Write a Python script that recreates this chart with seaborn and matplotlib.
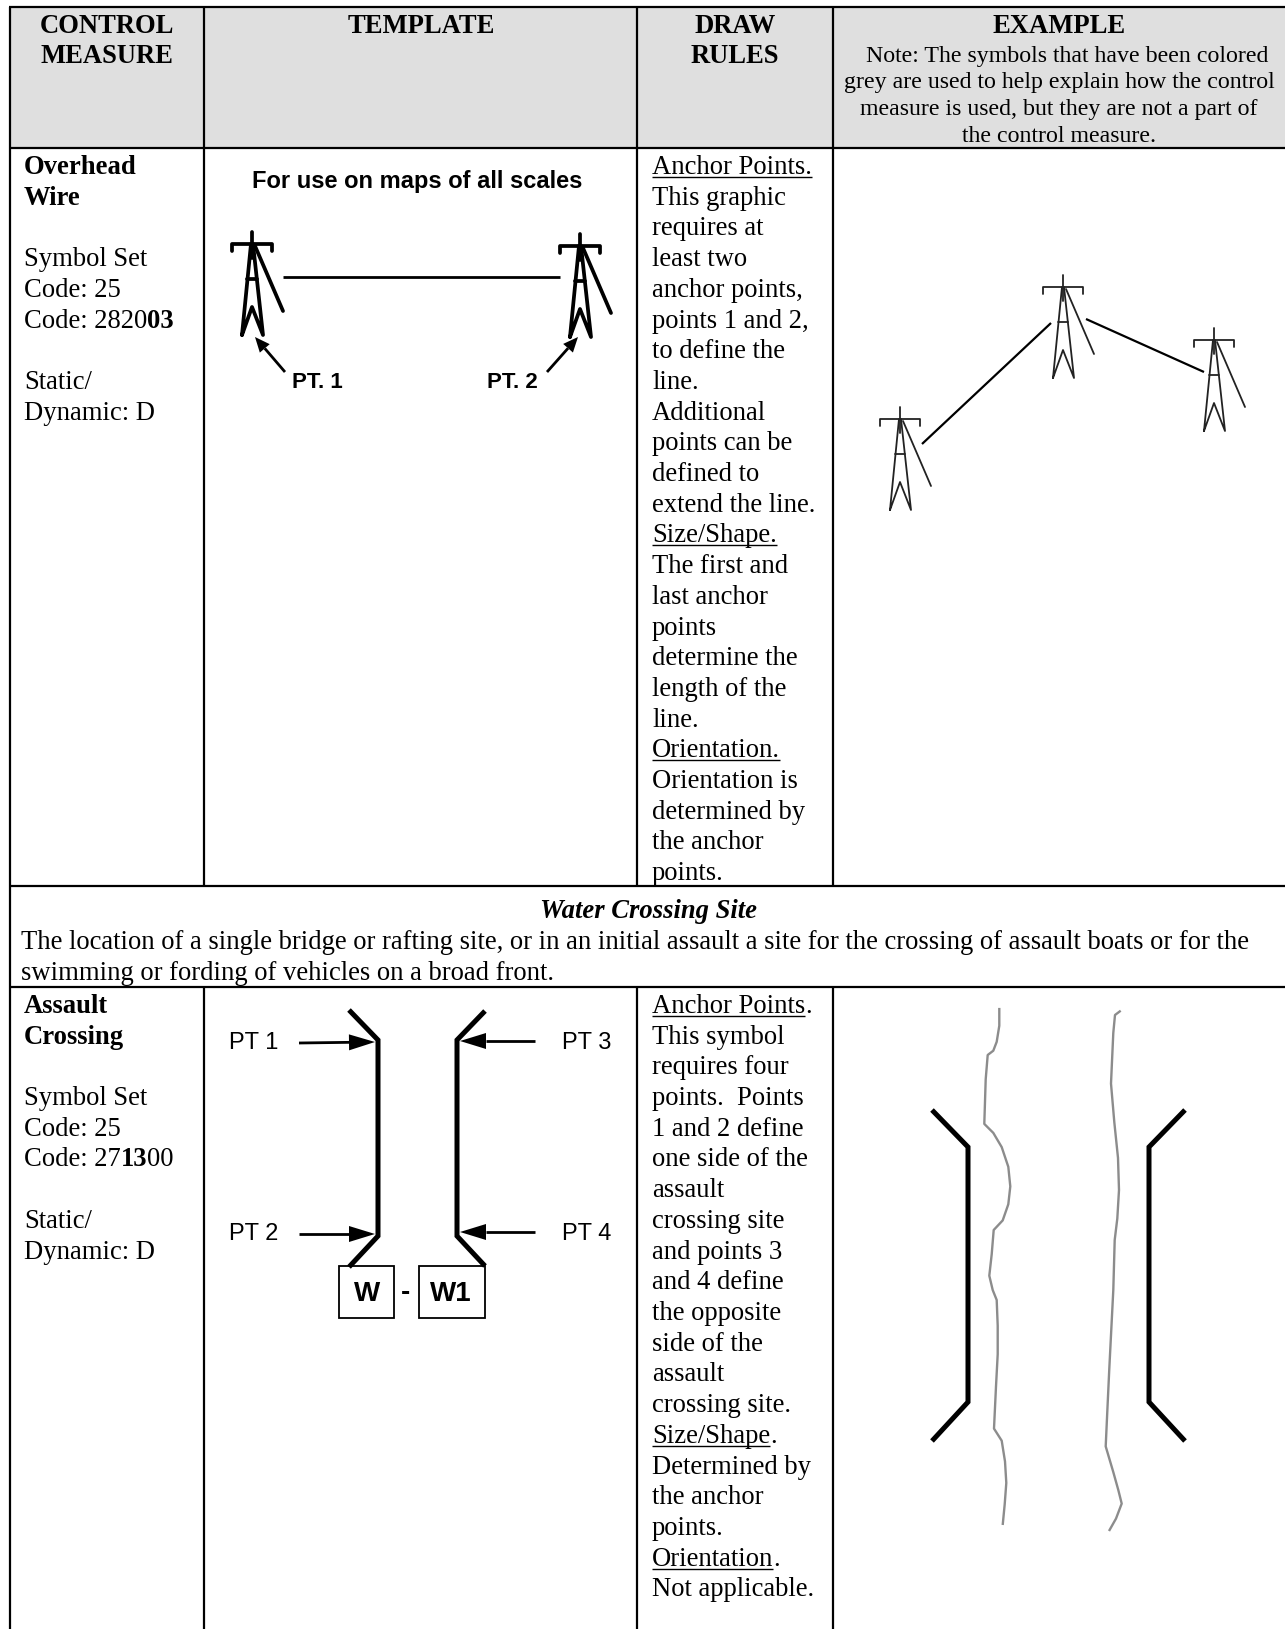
import matplotlib
matplotlib.use("Agg")
import matplotlib.pyplot as plt
import seaborn as sns
import pandas as pd
from matplotlib.patches import Rectangle, Polygon

sns.set_theme(style="white")
plt.rcParams['font.family'] = ['Liberation Serif', 'DejaVu Sans']

W, H = 1285, 1629
SERIF_PT = 19.2
LINE_H = 30.7
LEFT = 10

# Table grid
col_lines = [204, 637, 833]
row_y = dict(top=7, head=148, water_top=886, water_bot=987, bottom=1629)
header_fill = "#dfdfdf"

# Header text
headers = [("CONTROL", 107, 32.5), ("MEASURE", 107, 62.5), ("TEMPLATE", 421, 32.5),
           ("DRAW", 735, 32.5), ("RULES", 735, 62.5), ("EXAMPLE", 1059, 32.5)]
note_lines = ["Note: The symbols that have been colored",
              "grey are used to help explain how the control",
              "measure is used, but they are not a part of",
              "the control measure."]
note_centres = [1067, 1059, 1059, 1059]

# Left column
left1 = ["Overhead", "Wire", "", "Symbol Set", "Code: 25", "Code: 2820|03", "", "Static/", "Dynamic: D"]
left2 = ["Assault", "Crossing", "", "Symbol Set", "Code: 25", "Code: 27|13|00", "", "Static/", "Dynamic: D"]

# Draw rules: "__" underlines the whole line, "_" all but the final full stop
rules1 = ["__Anchor Points.", "This graphic", "requires at", "least two", "anchor points,", "points 1 and 2,",
          "to define the", "line.", "Additional", "points can be", "defined to", "extend the line.",
          "__Size/Shape.", "The first and", "last anchor", "points", "determine the", "length of the", "line.",
          "__Orientation.", "Orientation is", "determined by", "the anchor", "points."]
rules2 = ["_Anchor Points.", "This symbol", "requires four", "points.  Points", "1 and 2 define", "one side of the",
          "assault", "crossing site", "and points 3", "and 4 define", "the opposite", "side of the", "assault",
          "crossing site.", "_Size/Shape.", "Determined by", "the anchor", "points.", "_Orientation.", "Not applicable."]

water_title = "Water Crossing Site"
water_text = ["The location of a single bridge or rafting site, or in an initial assault a site for the crossing of assault boats or for the",
              "swimming or fording of vehicles on a broad front."]

# Tower geometry: offsets from the point where mast and cross-arm meet
mast = ([0, 0], [-12, 14])
arm = ([-20, -20, 20, 20], [7, 0, 0, 7])
guy = ([3, 31], [2, 67])
legs = ([-10, -1, 1, 11, 0, -10], [91, 0, 0, 91, 63, 91])
brace = ([-5, 5], [35, 35])

# Overhead wire template
tmpl_towers = [(252, 244), (580, 246)]
tmpl_wire = ([283, 560], [276.5, 276.5])
pt_arrows = [((285, 372), (255, 337)), ((547, 372), (578, 337))]
pt_labels = [("PT. 1", 317, 388), ("PT. 2", 512, 388)]

# Overhead wire example
ex_towers = [(900, 419), (1063, 287), (1214, 340)]
ex_wires = [([922, 1051], [444, 323]), ([1086, 1204], [319, 372])]

# Assault crossing template
cross_left = ([349, 378, 378, 349], [1010, 1040, 1236, 1267])
cross_right = ([485, 457, 457, 485], [1011, 1040, 1236, 1266])
cross_arrows = [((299, 1043), (375, 1042)), ((299, 1234), (375, 1234)),
                ((535, 1041), (460, 1041)), ((535, 1232), (460, 1232))]
cross_labels = [("PT 1", 229, 1049), ("PT 2", 229, 1240), ("PT 3", 562, 1049), ("PT 4", 562, 1240)]
box_w = (339, 394, 1266, 1318)
box_w1 = (419, 485, 1266, 1318)

# Assault crossing example
ex_left = ([932, 968, 968, 932], [1110, 1147, 1402, 1441])
ex_right = ([1185, 1149, 1149, 1185], [1110, 1147, 1402, 1441])
river_l_x = [999.3, 999.3, 996.7, 993.3, 987.7, 985.7, 984.3, 993.3, 1001.7, 1008.3, 1010.3, 1008.3, 1002.7, 993.7,
             991.7, 989.3, 992.7, 996.7, 997.7, 997.7, 996, 994, 1001.7, 1005, 1006.3, 1004.7, 1002.7]
river_l_y = [1007.9, 1025.7, 1041.8, 1050.7, 1055, 1079.3, 1123.9, 1132.9, 1147.1, 1166.8, 1186.4, 1204.3, 1220.4, 1230,
             1254.3, 1275.7, 1290, 1300, 1325.7, 1354.3, 1386.4, 1428.6, 1440.7, 1461.4, 1482.9, 1504.3, 1525]
river_r_x = [1120.7, 1115, 1113.3, 1112, 1111, 1114.3, 1118, 1119, 1117.3, 1114.7, 1113.3, 1111.3, 1109.3, 1107.3,
             1105.7, 1113.3, 1118.3, 1121.7, 1116, 1109]
river_r_y = [1010.7, 1015, 1032.9, 1061.4, 1083.6, 1122.1, 1157.9, 1190, 1218.6, 1240, 1290, 1329.3, 1368.6, 1411.4,
             1446.4, 1472.1, 1490, 1503.6, 1518.6, 1531]

fig = plt.figure(figsize=(W / 100, H / 100), dpi=100, facecolor="white")
ax = fig.add_axes([0, 0, 1, 1])
ax.set_xlim(0, W)
ax.set_ylim(H, 0)
ax.axis("off")


def line(xs, ys, lw=2.0, color="black", cap="butt", join="miter", z=3):
    frame = pd.DataFrame({"x": xs, "y": ys})
    sns.lineplot(data=frame, x="x", y="y", sort=False, estimator=None, errorbar=None, ax=ax, color=color,
                 linewidth=lw, solid_capstyle=cap, solid_joinstyle=join, zorder=z, legend=False)
    ax.set_xlim(0, W)
    ax.set_ylim(H, 0)


def arrow(p, q, lw, head_len, head_w):
    dx, dy = q[0] - p[0], q[1] - p[1]
    n = (dx * dx + dy * dy) ** 0.5
    ux, uy = dx / n, dy / n
    bx, by = q[0] - ux * head_len, q[1] - uy * head_len
    line([p[0], bx], [p[1], by], lw=lw)
    ax.add_patch(Polygon([q, (bx - uy * head_w, by + ux * head_w), (bx + uy * head_w, by - ux * head_w)],
                         closed=True, fc="black", ec="none", zorder=4))


def tower(cx, cy, lw, color="black"):
    for g in (mast, arm, guy, legs, brace):
        line([cx + v for v in g[0]], [cy + v for v in g[1]], lw=lw, color=color, cap="round", join="round")


def serif(x, y, s, weight="normal", style="normal", ha="left", size=SERIF_PT, under=False):
    t = ax.text(x, y, s, fontsize=size, fontweight=weight, fontstyle=style, ha=ha, va="baseline", color="black",
                family=["Liberation Serif", "DejaVu Sans"], zorder=5)
    if under:
        fig.canvas.draw()
        bb = t.get_window_extent()
        line([bb.x0, bb.x1], [y + 3, y + 3], lw=1.0)
    return t


def left_block(lines, x, y0):
    for i, s in enumerate(lines):
        y = y0 + i * LINE_H
        if "|" in s:
            cur = x
            for k, p in enumerate(s.split("|")):
                t = serif(cur, y, p, weight="bold" if k == 1 else "normal")
                fig.canvas.draw()
                cur = t.get_window_extent().x1
        else:
            serif(x, y, s, weight="bold" if i < 2 else "normal")


def rules_block(lines, x, y0):
    for i, s in enumerate(lines):
        y = y0 + i * LINE_H
        if s.startswith("__"):
            serif(x, y, s[2:], under=True)
        elif s.startswith("_"):
            t = serif(x, y, s[1:-1], under=True)
            fig.canvas.draw()
            serif(t.get_window_extent().x1, y, s[-1])
        else:
            serif(x, y, s)


def sans(x, y, s, size, weight="normal", ha="center"):
    ax.text(x, y, s, fontsize=size, fontweight=weight, ha=ha, va="baseline", family=["Liberation Sans"],
            color="black", zorder=5)


# Header background and grid
ax.add_patch(Rectangle((LEFT, row_y["top"]), W - LEFT, row_y["head"] - row_y["top"], fc=header_fill, ec="none", zorder=0))
for key in ("top", "head", "water_top", "water_bot"):
    line([LEFT - 1, W], [row_y[key], row_y[key]], lw=1.6)
line([LEFT, LEFT], [row_y["top"], row_y["bottom"]], lw=1.6)
for x in col_lines:
    line([x, x], [row_y["top"], row_y["water_top"]], lw=1.6)
    line([x, x], [row_y["water_bot"], row_y["bottom"]], lw=1.6)

# Header text
for s, x, y in headers:
    serif(x, y, s, weight="bold", ha="center")
for i, s in enumerate(note_lines):
    serif(note_centres[i], 61.5 + i * 26.9, s, ha="center", size=17.2)

left_block(left1, 24, 174)
left_block(left2, 24, 1013)
rules_block(rules1, 652, 174)
rules_block(rules2, 652, 1013)

serif(648, 918, water_title, weight="bold", style="italic", ha="center")
serif(21, 949, water_text[0])
serif(21, 980, water_text[1])

# Overhead wire template
sans(417, 188, "For use on maps of all scales", 17.0, weight="bold")
for cx, cy in tmpl_towers:
    tower(cx, cy, 2.7)
line(*tmpl_wire, lw=2.0)
for p, q in pt_arrows:
    arrow(p, q, 2.0, 15, 6.5)
for s, x, y in pt_labels:
    sans(x, y, s, 16, weight="bold")

# Overhead wire example
for cx, cy in ex_towers:
    tower(cx, cy, 1.3, color="#222222")
for xs, ys in ex_wires:
    line(xs, ys, lw=1.6)

# Assault crossing template
line(*cross_left, lw=3.6)
line(*cross_right, lw=3.6)
for p, q in cross_arrows:
    arrow(p, q, 2.0, 26, 8)
for s, x, y in cross_labels:
    sans(x, y, s, 17, ha="left")
for box, s, cx in ((box_w, "W", 367), (box_w1, "W1", 451)):
    x0, x1, y0, y1 = box
    ax.add_patch(Rectangle((x0, y0), x1 - x0, y1 - y0, fc="none", ec="black", lw=1.3, zorder=3))
    sans(cx, 1301, s, 20, weight="bold")
sans(406, 1300, "-", 20, weight="bold")

# Assault crossing example
line(*ex_left, lw=3.6)
line(*ex_right, lw=3.6)
line(river_l_x, river_l_y, lw=1.7, color="#8c8c8c", join="round")
line(river_r_x, river_r_y, lw=1.7, color="#8c8c8c", join="round")

fig.savefig("out.png", dpi=100)
